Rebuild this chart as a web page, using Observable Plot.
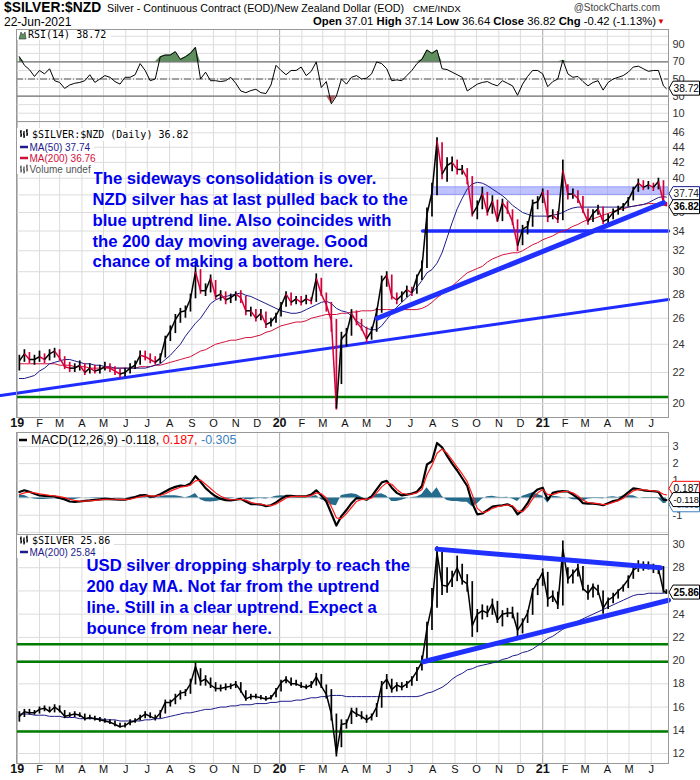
<!DOCTYPE html>
<html><head><meta charset="utf-8">
<script src="https://cdn.jsdelivr.net/npm/d3@7"></script>
<script src="https://cdn.jsdelivr.net/npm/@observablehq/plot@0.6"></script>
<style>
body{margin:0;background:#fff;width:700px;height:780px;overflow:hidden;font-family:'Liberation Sans',Arial,sans-serif;color:#000;}
#hdr{position:relative;height:29px;white-space:nowrap;}
#hdr span{position:absolute;}
#charts svg{display:block;}
</style></head><body>
<div id="hdr">
 <span style="left:4px;top:0px;font-weight:bold;font-size:13.8px;">$SILVER:$NZD</span>
 <span style="left:107px;top:2px;font-size:10.7px;">Silver - Continuous Contract (EOD)/New Zealand Dollar (EOD)</span>
 <span style="left:413px;top:3px;font-size:9.8px;">CME/INDX</span>
 <span style="right:40px;top:2px;font-size:10px;color:#444;">@StockCharts.com</span>
 <span style="left:4px;top:15px;font-size:12px;">22-Jun-2021</span>
 <span style="right:44px;top:15px;font-size:11.3px;"><b>Open</b> 37.01 <b>High</b> 37.14 <b>Low</b> 36.64 <b>Close</b> 36.82 <b>Chg</b> -0.42 (-1.13%)</span>
 <span style="left:657px;top:17px;font-size:8px;color:#d00;">▼</span>
</div>
<div id="charts"></div>
<script>
// ---------- DATA (weekly readings, Fridays from 4-Jan-2019, plus 22-Jun-2021) ----------
const weekStart = Date.UTC(2019, 0, 4);
const dates = d3.range(129).map(i => new Date(weekStart + i * 7 * 864e5)).concat([new Date(Date.UTC(2021, 5, 22))]);

const nzdClose = [
 22.8,23.3,22.9,22.9,23.1,22.9,23.3,23.5,23.0,22.4,
 22.3,22.3,22.5,22.0,22.3,22.1,22.2,22.4,22.3,22.1,
 21.9,22.0,22.3,22.5,23.2,23.1,22.9,22.7,23.0,24.4,
 25.0,25.9,26.5,26.6,27.6,30.0,28.3,28.3,29.4,27.8,
 28.0,27.5,27.7,28.0,27.7,26.6,26.6,26.0,26.4,25.5,
 25.7,26.2,27.0,28.0,27.3,27.6,27.3,27.6,27.4,29.4,
 28.0,27.1,25.8,19.7,24.4,24.8,26.4,25.7,25.2,24.4,
 25.0,26.5,29.1,29.7,27.8,27.5,27.9,28.4,28.1,29.5,
 30.4,35.8,38.3,44.9,40.5,41.6,42.0,41.1,41.1,40.0,
 35.8,36.7,38.2,36.0,37.3,35.1,37.1,36.3,35.0,32.5,
 34.2,34.5,37.0,37.2,38.4,35.5,35.7,35.2,41.0,38.1,
 38.1,37.6,36.2,35.0,35.9,36.4,35.0,35.3,36.0,36.3,
 36.7,37.4,38.6,39.4,38.9,39.2,38.9,39.6,37.1,36.82];
const nzdHigh = [
 23.2,23.6,23.4,23.2,23.5,23.3,23.6,23.7,23.6,23.1,
 22.7,22.6,22.8,22.6,22.6,22.5,22.5,22.7,22.6,22.4,
 22.2,22.3,22.6,22.8,23.5,23.5,23.3,23.1,23.3,24.6,
 25.4,26.3,26.8,27.0,28.0,31.0,30.2,28.9,29.7,29.2,
 28.3,28.2,28.0,28.2,28.3,27.8,26.9,26.7,26.7,26.5,
 26.0,26.4,27.3,28.2,28.1,27.8,27.8,27.9,27.7,29.8,
 29.4,28.1,27.3,25.9,24.9,25.2,26.7,26.6,25.9,25.3,
 25.3,26.8,29.6,30.0,29.7,28.1,28.2,28.7,28.6,29.7,
 31.0,36.5,39.4,45.3,44.6,42.6,42.7,42.3,41.6,41.2,
 40.2,37.3,38.9,38.3,37.9,37.4,37.5,37.2,36.3,35.2,
 34.6,35.0,37.4,37.8,38.7,38.5,36.3,36.1,42.3,39.2,
 38.7,38.5,37.8,36.4,36.3,36.8,36.6,35.8,36.4,36.7,
 37.0,37.7,38.9,39.9,39.7,39.6,39.4,40.0,39.7,37.14];
const nzdLow = [
 22.1,22.7,22.6,22.5,22.7,22.6,22.8,23.0,22.8,22.2,
 22.0,22.0,22.1,21.8,21.9,21.9,21.9,22.1,22.0,21.8,
 21.6,21.7,21.9,22.2,22.5,22.8,22.6,22.5,22.6,23.0,
 24.2,24.8,25.6,26.0,26.5,27.6,28.0,27.8,28.1,27.5,
 27.4,27.1,27.2,27.4,27.2,26.2,26.1,25.7,25.8,25.2,
 25.3,25.6,26.1,26.9,27.0,27.1,27.0,27.1,27.1,27.3,
 27.8,26.5,24.9,19.6,21.2,23.8,24.6,25.4,25.0,24.1,
 24.3,24.9,26.4,28.6,27.5,27.1,27.3,27.7,27.8,28.0,
 29.2,30.3,35.5,37.9,39.8,39.5,40.8,40.4,40.4,39.2,
 35.5,35.2,36.3,35.6,35.8,34.9,35.0,35.8,34.6,31.9,
 32.5,33.6,34.4,36.3,37.0,34.9,35.2,34.8,35.1,37.4,
 37.5,37.0,35.9,34.6,34.9,35.7,34.7,34.6,35.2,35.7,
 36.1,36.6,37.3,38.3,38.5,38.6,38.4,38.6,36.9,36.64];
const nzdMA50 = [
 21.6,21.6,21.7,21.8,22.1,22.3,22.6,22.7,22.8,22.9,
 22.9,22.8,22.7,22.6,22.6,22.5,22.5,22.4,22.4,22.3,
 22.3,22.3,22.3,22.3,22.3,22.3,22.4,22.5,22.6,22.9,
 23.2,23.6,24.0,24.6,25.1,25.6,26.0,26.6,27.2,27.5,
 27.7,27.8,27.9,28.0,28.1,27.9,27.8,27.6,27.4,27.2,
 27.0,26.8,26.6,26.5,26.4,26.4,26.5,26.7,26.9,27.1,
 27.3,27.4,27.2,26.8,26.6,26.5,26.2,25.8,25.5,25.2,
 25.1,25.1,25.4,25.9,26.4,26.9,27.3,27.7,28.1,28.6,
 29.2,29.9,30.2,30.8,31.8,33.3,34.9,36.4,37.6,38.7,
 39.3,39.5,39.4,39.1,38.7,38.3,37.9,37.4,36.8,36.4,
 36.0,35.8,35.6,35.6,35.6,35.6,35.7,35.8,36.0,36.3,
 36.5,36.6,36.6,36.6,36.6,36.6,36.6,36.6,36.6,36.6,
 36.6,36.6,36.7,36.8,36.9,37.1,37.4,37.7,37.8,37.74];
const nzdMA200 = [
 22.6,22.6,22.6,22.6,22.6,22.6,22.6,22.6,22.5,22.5,
 22.5,22.4,22.4,22.4,22.3,22.3,22.3,22.3,22.3,22.3,
 22.3,22.3,22.3,22.3,22.4,22.4,22.4,22.5,22.5,22.6,
 22.7,22.8,22.9,23.0,23.1,23.3,23.5,23.6,23.8,24.0,
 24.1,24.2,24.3,24.3,24.4,24.5,24.5,24.6,24.7,24.9,
 25.0,25.2,25.4,25.5,25.6,25.7,25.7,25.8,26.0,26.1,
 26.2,26.3,26.3,26.3,26.4,26.4,26.5,26.5,26.6,26.6,
 26.6,26.7,26.7,26.7,26.7,26.7,26.7,26.7,26.7,26.7,
 26.8,27.0,27.3,27.7,28.0,28.4,28.7,29.1,29.5,29.9,
 30.1,30.3,30.5,30.9,31.2,31.4,31.6,31.7,31.8,31.8,
 32.0,32.3,32.6,32.8,33.1,33.3,33.5,33.8,34.0,34.2,
 34.5,34.7,35.0,35.2,35.3,35.5,35.7,35.9,36.1,36.3,
 36.4,36.6,36.7,36.8,36.9,37.0,37.0,36.9,36.8,36.76];
const usdClose = [
 15.2,15.6,15.5,15.5,15.8,15.9,15.6,16.0,15.7,15.2,
 15.3,15.4,15.3,15.0,15.1,15.0,14.9,14.8,14.7,14.5,
 14.3,14.4,14.7,14.8,15.1,15.4,15.2,15.0,15.5,16.4,
 16.4,16.8,17.2,17.3,18.0,19.5,18.2,18.4,17.9,17.6,
 17.6,17.7,17.8,18.0,17.4,16.7,16.9,16.9,16.8,16.7,
 16.8,17.4,18.1,18.4,18.0,18.0,17.8,17.7,17.9,18.6,
 17.8,17.1,15.4,12.0,14.5,14.6,15.7,15.4,15.2,14.9,
 15.2,16.0,17.9,18.4,17.5,17.9,17.7,18.0,18.4,19.1,
 19.9,22.8,24.8,29.3,26.5,26.4,27.1,28.0,26.9,26.6,
 23.0,24.0,24.3,24.1,24.9,23.5,24.0,24.1,24.1,22.6,
 23.3,24.1,26.0,26.8,27.6,25.3,25.6,24.8,29.6,27.0,
 27.5,28.0,26.2,25.8,26.4,26.0,24.5,25.2,25.5,26.0,
 26.4,27.0,27.8,28.1,28.2,28.2,28.2,27.9,26.0,25.86];
const usdHigh = [
 15.6,15.8,15.8,15.7,16.0,16.1,16.0,16.2,16.1,15.7,
 15.5,15.6,15.5,15.4,15.3,15.2,15.1,15.0,14.9,14.8,
 14.6,14.6,14.9,15.0,15.3,15.6,15.5,15.3,15.7,16.6,
 16.6,17.1,17.4,17.5,18.4,19.8,19.3,18.7,18.5,18.1,
 17.9,18.0,18.0,18.2,18.1,17.4,17.1,17.1,17.0,16.9,
 17.0,17.6,18.3,18.6,18.5,18.3,18.1,17.9,18.2,18.9,
 18.8,17.9,17.5,15.4,14.9,14.9,15.9,15.9,15.6,15.3,
 15.4,16.3,18.2,18.8,18.4,18.1,18.1,18.2,18.6,19.4,
 20.4,23.3,26.2,29.8,29.3,28.0,27.7,29.0,28.3,27.4,
 26.8,24.4,24.8,24.7,25.3,25.1,24.3,24.5,24.6,24.1,
 23.6,24.3,26.2,27.0,27.9,27.6,26.0,25.9,30.3,28.0,
 27.8,28.3,28.1,26.5,26.6,26.5,26.0,25.4,25.8,26.1,
 26.5,27.3,28.1,28.6,28.5,28.5,28.3,28.1,28.1,26.1];
const usdLow = [
 14.7,15.1,15.3,15.3,15.4,15.6,15.5,15.5,15.5,15.0,
 15.1,15.1,15.1,14.8,14.9,14.8,14.7,14.6,14.5,14.3,
 14.2,14.2,14.4,14.6,14.8,15.0,15.0,14.8,15.0,15.4,
 16.0,16.2,16.6,16.9,17.1,17.9,17.8,17.8,17.6,17.3,
 17.3,17.4,17.5,17.6,17.2,16.5,16.6,16.7,16.6,16.5,
 16.6,16.8,17.3,18.0,17.8,17.8,17.6,17.5,17.6,17.8,
 17.6,16.7,14.8,11.7,12.5,14.1,14.5,15.1,14.9,14.6,
 14.8,15.1,15.9,17.5,17.2,17.3,17.4,17.6,17.8,18.2,
 19.1,19.9,22.6,24.5,25.6,25.8,26.3,26.8,26.5,25.9,
 22.0,22.4,23.5,23.7,23.9,23.2,22.9,23.7,23.6,22.0,
 22.3,23.2,23.9,25.6,26.4,24.6,25.0,24.4,24.7,26.6,
 26.6,27.2,26.0,25.2,25.4,25.6,24.0,24.4,24.9,25.3,
 25.9,26.2,27.0,27.6,27.7,27.8,27.5,27.4,25.8,25.7];
const usdMA200 = [
 15.4,15.4,15.4,15.3,15.3,15.3,15.2,15.2,15.2,15.1,
 15.1,15.1,15.0,15.0,15.0,15.0,15.0,14.9,14.9,14.9,
 14.8,14.8,14.8,14.8,14.8,14.9,14.9,15.0,15.0,15.1,
 15.2,15.3,15.4,15.5,15.5,15.6,15.7,15.8,15.8,15.9,
 16.0,16.0,16.1,16.1,16.2,16.2,16.2,16.3,16.3,16.3,
 16.4,16.4,16.5,16.5,16.5,16.6,16.6,16.7,16.8,16.8,
 16.9,16.9,17.0,17.0,17.0,16.9,16.9,16.9,16.9,16.9,
 16.9,16.9,16.9,16.9,16.9,16.9,16.9,16.9,16.9,16.9,
 17.0,17.2,17.3,17.5,17.7,18.0,18.4,18.7,18.9,19.2,
 19.3,19.5,19.6,19.7,19.8,19.9,20.1,20.2,20.4,20.5,
 20.7,20.8,21.0,21.3,21.6,21.9,22.1,22.4,22.7,22.9,
 23.1,23.4,23.6,23.8,24.0,24.2,24.4,24.6,24.8,25.0,
 25.2,25.4,25.6,25.7,25.7,25.8,25.8,25.8,25.8,25.84];
const rsi14 = [
 76,66,61,53,60,56,62,48,46,39,
 43,45,46,48,55,46,50,54,52,47,
 44,52,52,55,68,60,48,50,76,78,
 78,82,73,76,80,87,50,58,48,48,
 47,48,52,45,36,34,36.5,38,34,33,
 43,66,60,55,60,60,64,54,59,70,
 40,47,21,30,50,44,52,54,50,51,
 56,70,68,62,48,49,48,54,60,68,
 73,84,80,84,62,61,58,55,52,36,
 40,44,46,47,44,42,48,45,42,31,
 44,53,60,60,56,41,47,50,72,56,
 52,53,47,42,46,48,37,46,50,52,
 54,58,64,65,62,59,60,60,42,38.72];
const macdLine = [
 0.35,0.45,0.36,0.25,0.15,0.12,0.11,0.09,0.0,-0.08,
 -0.2,-0.22,-0.2,-0.16,-0.14,-0.11,-0.08,-0.05,-0.06,-0.08,
 -0.09,-0.09,-0.02,0.06,0.16,0.17,0.08,0.1,0.22,0.38,
 0.54,0.65,0.72,0.7,0.85,1.27,0.95,0.58,0.32,0.1,
 -0.05,-0.12,-0.14,-0.1,-0.05,-0.2,-0.35,-0.36,-0.38,-0.47,
 -0.42,-0.25,-0.05,0.12,0.12,0.1,0.1,0.1,0.2,0.45,
 0.15,-0.2,-0.9,-1.6,-1.05,-0.7,-0.3,0.0,-0.03,-0.1,
 0.1,0.5,0.9,1.0,0.6,0.3,0.15,0.2,0.26,0.36,
 0.7,1.95,2.15,3.2,2.95,2.45,2.0,1.6,1.15,0.7,
 -0.3,-0.95,-0.9,-0.7,-0.5,-0.46,-0.42,-0.36,-0.5,-0.95,
 -0.7,-0.3,0.25,0.5,0.6,-0.1,0.3,0.38,0.4,0.38,
 0.2,0.0,-0.3,-0.32,-0.33,-0.36,-0.42,-0.3,-0.18,-0.12,
 0.1,0.33,0.56,0.52,0.45,0.42,0.4,0.36,-0.1,-0.118];
const macdSignal = [
 0.2,0.3,0.35,0.3,0.24,0.2,0.16,0.13,0.08,0.02,
 -0.07,-0.14,-0.18,-0.18,-0.16,-0.14,-0.11,-0.08,-0.07,-0.07,
 -0.08,-0.09,-0.06,0.0,0.07,0.13,0.12,0.11,0.15,0.25,
 0.4,0.52,0.63,0.68,0.75,1.0,1.05,0.8,0.55,0.3,
 0.1,-0.02,-0.1,-0.1,-0.07,-0.12,-0.25,-0.32,-0.36,-0.42,
 -0.44,-0.35,-0.18,0.0,0.08,0.1,0.1,0.1,0.14,0.3,
 0.25,0.0,-0.5,-1.15,-1.2,-0.9,-0.55,-0.2,-0.08,-0.08,
 0.0,0.3,0.65,0.88,0.8,0.5,0.28,0.22,0.23,0.3,
 0.5,1.35,1.9,2.6,2.85,2.6,2.2,1.8,1.4,0.95,
 0.2,-0.6,-0.85,-0.78,-0.6,-0.5,-0.45,-0.4,-0.45,-0.75,
 -0.8,-0.5,-0.05,0.3,0.5,0.2,0.2,0.3,0.38,0.38,
 0.3,0.12,-0.12,-0.26,-0.3,-0.33,-0.38,-0.35,-0.25,-0.15,
 -0.02,0.2,0.42,0.5,0.48,0.44,0.42,0.38,0.22,0.187];
const macdHist = [
 0.15,0.15,0.01,-0.05,-0.09,-0.08,-0.05,-0.04,-0.08,-0.1,
 -0.13,-0.08,-0.02,0.02,0.02,0.03,0.03,0.03,0.01,-0.01,
 -0.01,0,0.04,0.06,0.09,0.04,-0.04,-0.01,0.07,0.13,
 0.14,0.13,0.09,0.02,0.1,0.27,-0.1,-0.22,-0.23,-0.2,
 -0.15,-0.1,-0.04,0,0.02,-0.08,-0.1,-0.04,-0.02,-0.05,
 0.02,0.1,0.13,0.12,0.04,0,0,0,0.06,0.15,
 -0.1,-0.2,-0.4,-0.45,0.15,0.2,0.25,0.2,0.05,-0.02,
 0.1,0.2,0.25,0.12,-0.2,-0.2,-0.13,-0.02,0.03,0.06,
 0.2,0.6,0.25,0.6,0.1,-0.15,-0.2,-0.2,-0.25,-0.25,
 -0.5,-0.35,-0.05,0.08,0.1,0.04,0.03,0.04,-0.05,-0.2,
 0.1,0.2,0.3,0.2,0.1,-0.3,0.1,0.08,0.02,0,
 -0.1,-0.12,-0.18,-0.06,-0.03,-0.03,-0.04,0.05,0.07,0.03,
 0.12,0.13,0.14,0.02,-0.03,-0.02,-0.02,-0.02,-0.32,-0.305];

// trend lines / levels drawn on the chart (date, price)
const nzdTrendLong = [{date: new Date(Date.UTC(2018,11,9)), v: 20.5}, {date: new Date(Date.UTC(2021,5,25)), v: 27.54}];
const nzdTrendUp = [{date: new Date(Date.UTC(2020,4,16)), v: 26.0}, {date: new Date(Date.UTC(2021,5,18)), v: 37.1}];
const nzdSupport = [{date: new Date(Date.UTC(2020,6,18)), v: 34.0}, {date: new Date(Date.UTC(2021,5,25)), v: 34.0}];
const nzdBand = [{x1: new Date(Date.UTC(2020,7,1)), x2: new Date(Date.UTC(2021,5,25)), y1: 38.0, y2: 38.9}];
const nzdGreen = [20.4];
const usdTrendTop = [{date: new Date(Date.UTC(2020,7,7)), v: 29.6}, {date: new Date(Date.UTC(2021,5,14)), v: 28.0}];
const usdTrendLow = [{date: new Date(Date.UTC(2020,6,19)), v: 19.9}, {date: new Date(Date.UTC(2021,5,25)), v: 25.2}];
const usdGreen = [21.4, 19.9, 13.9];

// axes
const monthStarts = d3.utcMonth.range(new Date(Date.UTC(2019,0,1)), new Date(Date.UTC(2021,6,1)));
const monthLabels = ["19","F","M","A","M","J","J","A","S","O","N","D",
                     "20","F","M","A","M","J","J","A","S","O","N","D",
                     "21","F","M","A","M","J"];
const yearStarts = [new Date(Date.UTC(2019,0,1)), new Date(Date.UTC(2020,0,1)), new Date(Date.UTC(2021,0,1))];
const rsiTicks = [10,30,50,70,90];
const rsiGrid = [0,10,20,30,40,50,60,70,80,90,100];
const nzdGrid = [20,22,24,26,28,30,32,34,36,38,40,42,44,46];
const nzdTicks = [20,22,24,26,28,30,32,34,36,40,42,44,46];
const macdTicks = [-1,1,2,3];
const macdGrid = [-2,-1,0,1,2,3];
const usdGrid = [12,14,16,18,20,22,24,26,28,30];
const usdTicks = [12,14,16,18,20,22,24,28,30];

// ---------- LAYOUT ----------
const FONT = "'Liberation Sans', Arial, sans-serif";
const MONO = "'DejaVu Sans Mono', monospace";
const xDomain = [new Date(Date.UTC(2018,11,31)), new Date(Date.UTC(2021,5,25))];
const base = {width: 700, marginLeft: 16, marginRight: 32,
  style: {fontFamily: FONT, fontSize: "11px", color: "#333", background: "transparent", overflow: "visible"}};
const xOpt = {type: "utc", domain: xDomain, axis: null};
const GRID = "#dcdcdc";
const ticksData = monthStarts.map((d, i) => ({date: d, label: monthLabels[i], year: i % 12 === 0}));
const gridX = () => [
  Plot.ruleX(monthStarts, {stroke: GRID}),
  Plot.ruleX(yearStarts, {stroke: "#b0b0b0"})
];
const xLabels = () => [
  Plot.text(ticksData.filter(d => !d.year), {x: "date", text: "label", frameAnchor: "bottom", dy: 9, fontSize: 11, fill: "#111"}),
  Plot.text(ticksData.filter(d => d.year), {x: "date", text: "label", frameAnchor: "bottom", dy: 9, fontSize: 12.5, fontWeight: "bold", fill: "#111"})
];

const rows = dates.map((d, i) => ({date: d, nzd: nzdClose[i], nh: nzdHigh[i], nl: nzdLow[i], ma50: nzdMA50[i], ma200: nzdMA200[i],
  usd: usdClose[i], uh: usdHigh[i], ul: usdLow[i], uma: usdMA200[i], rsi: rsi14[i], macd: macdLine[i], sig: macdSignal[i], hist: macdHist[i],
  nc: i > 0 && nzdClose[i] < nzdClose[i - 1] ? "#d4003a" : "#000"}));
const nzdSeg = rows.slice(1).map((r, i) => ({x1: rows[i].date, y1: rows[i].nzd, x2: r.date, y2: r.nzd, c: r.nc}));

const container = document.getElementById("charts");

function tag(svg, y, label, {stroke = "#000", color = "#000", bold = false} = {}) {
  const g = d3.select(svg).append("g");
  const xr = 668;
  g.append("path").attr("d", `M${xr + 1},${y}L${xr + 5},${y - 7}H699.5V${y + 7}H${xr + 5}Z`)
    .attr("fill", "#fff").attr("stroke", stroke).attr("stroke-width", 1);
  const t = g.append("text").attr("x", xr + 5.5).attr("y", y).attr("dy", "0.36em").attr("text-anchor", "start")
    .attr("font-family", FONT).attr("font-size", 10.5).attr("font-weight", bold ? "bold" : "normal")
    .attr("fill", color).text(label);
  const w = t.node().getComputedTextLength();
  const room = 699 - (xr + 5.5);
  if (w > room) t.attr("font-size", 10.5 * room / w);
}
function legendText(svg, x, y, txt, {font = FONT, size = 10, fill = "#000", weight = "normal"} = {}) {
  return d3.select(svg).append("text").attr("x", x).attr("y", y).attr("dy", "0.35em").attr("text-anchor", "start")
    .attr("font-family", font).attr("font-size", size).attr("fill", fill).attr("font-weight", weight).text(txt);
}
function bg(svg, x, y, w, h) {
  d3.select(svg).append("rect").attr("x", x).attr("y", y).attr("width", w).attr("height", h).attr("fill", "#fff");
}
function barsIcon(svg, x, y, color = "#000") {
  d3.select(svg).append("path")
    .attr("d", `M${x + 1},${y - 4}v7M${x},${y - 2}h1M${x + 1},${y + 1}h1M${x + 4},${y - 3}v7M${x + 3},${y}h1M${x + 4},${y + 2}h1M${x + 7},${y - 5}v7M${x + 6},${y - 3}h1M${x + 7},${y}h1`)
    .attr("stroke", color).attr("stroke-width", 1.3).attr("fill", "none");
}
function dash(svg, x, y, color) {
  d3.select(svg).append("line").attr("x1", x).attr("x2", x + 8).attr("y1", y).attr("y2", y)
    .attr("stroke", color).attr("stroke-width", 2.5);
}

// ---------- RSI PANEL ----------
const rsiPlot = Plot.plot({
  ...base, height: 92, marginTop: 0, marginBottom: 0,
  x: xOpt,
  y: {domain: [0.3, 107.9], axis: "right", ticks: rsiTicks, tickFormat: d => String(d), tickSize: 0, tickPadding: 4, label: null},
  marks: [
    ...gridX(),
    Plot.ruleY(rsiGrid, {stroke: GRID}),
    Plot.areaY(rows, {x: "date", y1: 70, y2: d => Math.max(d.rsi, 70), fill: "#5f8f5f"}),
    Plot.areaY(rows, {x: "date", y1: 30, y2: d => Math.min(d.rsi, 30), fill: "#c25b5b"}),
    Plot.ruleY([70, 30], {stroke: "#555"}),
    Plot.ruleY([50], {stroke: "#555", strokeDasharray: "7,2,1,2"}),
    Plot.line(rows, {x: "date", y: "rsi", stroke: "#000", strokeWidth: 1}),
    Plot.frame({stroke: "#999"})
  ]
});
container.appendChild(rsiPlot);
{
  const ys = rsiPlot.scale("y");
  bg(rsiPlot, 17, 1, 94, 10);
  d3.select(rsiPlot).append("path").attr("d", "M19,10L21,3L23,6L25,3L26,10Z").attr("fill", "#5f8f5f").attr("stroke", "#333").attr("stroke-width", 0.6);
  legendText(rsiPlot, 28, 5.5, "RSI(14) 38.72", {font: MONO, size: 10});
  tag(rsiPlot, ys.apply(38.72), "38.72");
}

// ---------- MAIN NZD PANEL ----------
const mainPlot = Plot.plot({
  ...base, height: 311, marginTop: 0, marginBottom: 15,
  x: xOpt,
  y: {type: "log", domain: [19.157, 47.63], axis: "right", ticks: nzdTicks, tickFormat: d => String(d), tickSize: 0, tickPadding: 4, label: null},
  marks: [
    ...gridX(),
    Plot.ruleY(nzdGrid, {stroke: GRID}),
    Plot.rect(nzdBand, {x1: "x1", x2: "x2", y1: "y1", y2: "y2", fill: "#7d86ff", fillOpacity: 0.5, stroke: "#6a74ff", strokeOpacity: 0.6}),
    Plot.ruleY(nzdGreen, {stroke: "#007c00", strokeWidth: 2.5}),
    Plot.line(nzdTrendLong, {x: "date", y: "v", stroke: "#1f2cff", strokeWidth: 3}),
    Plot.line(nzdSupport, {x: "date", y: "v", stroke: "#1f2cff", strokeWidth: 3.5}),
    Plot.line(rows, {x: "date", y: "ma200", stroke: "#d0103a", strokeWidth: 1}),
    Plot.line(rows, {x: "date", y: "ma50", stroke: "#1c1c8c", strokeWidth: 1}),
    Plot.ruleX(rows, {x: "date", y1: "nl", y2: "nh", stroke: "nc", strokeWidth: 1.7}),
    Plot.link(nzdSeg, {x1: "x1", y1: "y1", x2: "x2", y2: "y2", stroke: "c", strokeWidth: 1.5}),
    Plot.line(nzdTrendUp, {x: "date", y: "v", stroke: "#2030ff", strokeWidth: 5}),
    Plot.text(["The sideways consolidation is over.\nNZD silver has at last pulled back to the\nblue uptrend line. Also coincides with\nthe 200 day moving average. Good\nchance of making a bottom here."],
      {frameAnchor: "top-left", textAnchor: "start", lineAnchor: "top", dx: 76, dy: 48, fontSize: 16.7, fontWeight: "bold", fill: "#0000ee", lineHeight: 1.245}),
    ...xLabels(),
    Plot.frame({stroke: "#999"})
  ]
});
container.appendChild(mainPlot);
{
  const ys = mainPlot.scale("y");
  bg(mainPlot, 17, 7, 173, 13);
  bg(mainPlot, 17, 20, 77, 33);
  barsIcon(mainPlot, 20, 13);
  legendText(mainPlot, 32, 13, "$SILVER:$NZD (Daily) 36.82", {font: MONO, size: 10});
  dash(mainPlot, 20, 26, "#1c1c8c");
  legendText(mainPlot, 29.5, 26, "MA(50) 37.74", {fill: "#1c1c8c"});
  dash(mainPlot, 20, 37, "#d0103a");
  legendText(mainPlot, 29.5, 37, "MA(200) 36.76", {fill: "#d0103a"});
  barsIcon(mainPlot, 20, 48.5, "#555");
  legendText(mainPlot, 29.5, 48, "Volume undef", {fill: "#555"});
  tag(mainPlot, ys.apply(37.74) - 3, "37.74", {stroke: "#1c1c8c", color: "#222"});
  tag(mainPlot, ys.apply(36.82) + 2, "36.82", {bold: true});
}

// ---------- MACD PANEL ----------
const macdPlot = Plot.plot({
  ...base, height: 102, marginTop: 0, marginBottom: 0,
  x: xOpt,
  y: {domain: [-2.12, 3.81], axis: "right", ticks: macdTicks, tickFormat: d => String(d), tickSize: 0, tickPadding: 4, label: null},
  marks: [
    ...gridX(),
    Plot.ruleY(macdGrid, {stroke: GRID}),
    Plot.areaY(rows, {x: "date", y: "hist", fill: "#256b8c"}),
    Plot.line(rows, {x: "date", y: "macd", stroke: "#000", strokeWidth: 2.2}),
    Plot.line(rows, {x: "date", y: "sig", stroke: "#ff1a1a", strokeWidth: 1.2}),
    Plot.frame({stroke: "#999"})
  ]
});
container.appendChild(macdPlot);
{
  const ys = macdPlot.scale("y");
  dash(macdPlot, 19, 8, "#000");
  const t = legendText(macdPlot, 31, 8, "", {size: 12.5});
  t.append("tspan").attr("fill", "#000").text("MACD(12,26,9) -0.118,");
  t.append("tspan").attr("fill", "#ff0000").text(" 0.187,");
  t.append("tspan").attr("fill", "#3a7fc0").text(" -0.305");
  tag(macdPlot, ys.apply(-0.305) + 2, "-0.305", {stroke: "#3a7fc0", color: "#3a7fc0"});
  tag(macdPlot, ys.apply(0.187) - 6, "0.187", {stroke: "#ff0000", color: "#000"});
  tag(macdPlot, ys.apply(-0.118), "-0.118", {stroke: "#000"});
}

// ---------- USD PANEL ----------
const usdPlot = Plot.plot({
  ...base, height: 246, marginTop: 0, marginBottom: 17,
  x: xOpt,
  y: {domain: [11.14, 30.86], axis: "right", ticks: usdTicks, tickFormat: d => String(d), tickSize: 0, tickPadding: 4, label: null},
  marks: [
    ...gridX(),
    Plot.ruleY(usdGrid, {stroke: GRID}),
    Plot.ruleY(usdGreen, {stroke: "#007c00", strokeWidth: 2.5}),
    Plot.line(rows, {x: "date", y: "uma", stroke: "#1c1c8c", strokeWidth: 1}),
    Plot.ruleX(rows, {x: "date", y1: "ul", y2: "uh", stroke: "#000", strokeWidth: 1.7}),
    Plot.line(rows, {x: "date", y: "usd", stroke: "#000", strokeWidth: 1.5}),
    Plot.line(usdTrendTop, {x: "date", y: "v", stroke: "#2030ff", strokeWidth: 5}),
    Plot.line(usdTrendLow, {x: "date", y: "v", stroke: "#2030ff", strokeWidth: 5}),
    Plot.text(["USD silver dropping sharply to reach the\n200 day MA. Not far from the uptrend\nline. Still in a clear uptrend. Expect a\nbounce from near here."],
      {frameAnchor: "top-left", textAnchor: "start", lineAnchor: "top", dx: 70, dy: 21, fontSize: 16.7, fontWeight: "bold", fill: "#0000ee", lineHeight: 1.275}),
    ...xLabels(),
    Plot.frame({stroke: "#999"})
  ]
});
container.appendChild(usdPlot);
{
  const ys = usdPlot.scale("y");
  bg(usdPlot, 17, 1, 97, 11);
  bg(usdPlot, 17, 12, 78, 12);
  barsIcon(usdPlot, 20, 6.5);
  legendText(usdPlot, 32, 6, "$SILVER 25.86", {font: MONO, size: 10});
  dash(usdPlot, 20, 18, "#1c1c8c");
  legendText(usdPlot, 29.5, 18, "MA(200) 25.84", {fill: "#1c1c8c"});
  tag(usdPlot, ys.apply(25.86), "25.86", {bold: true});
}
</script>
</body></html>
